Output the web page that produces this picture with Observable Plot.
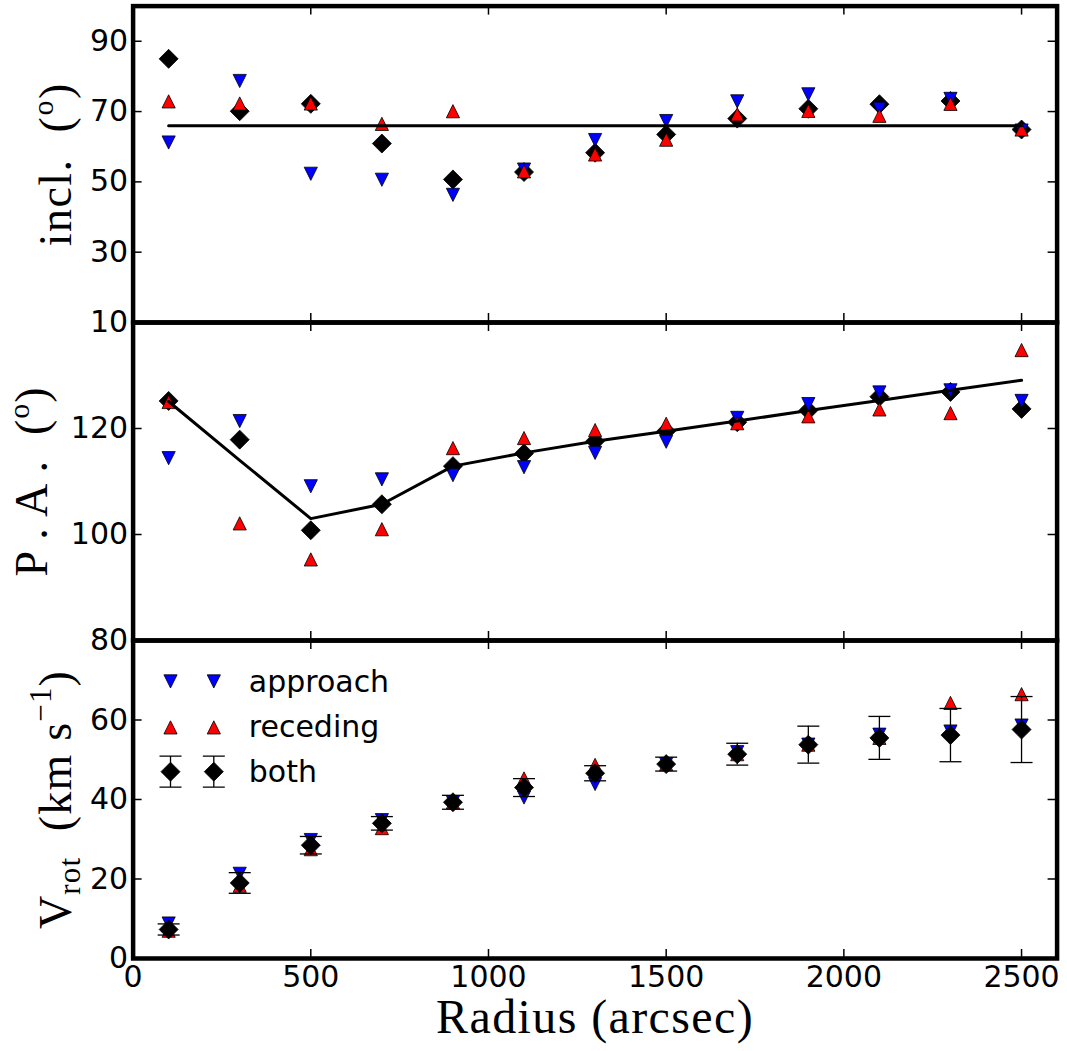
<!DOCTYPE html>
<html><head><meta charset="utf-8">
<script src="https://cdn.jsdelivr.net/npm/d3@7"></script>
<script src="https://cdn.jsdelivr.net/npm/@observablehq/plot@0.6"></script>
<style>
html,body{margin:0;padding:0;background:#fff;}
#wrap{position:relative;width:1067px;height:1051px;overflow:hidden;background:#fff;}
#wrap svg{position:absolute;left:0;}
</style></head><body><div id="wrap"></div>
<script>
// ---- data ----
const radius = [100, 300, 500, 700, 900, 1100, 1300, 1500, 1700, 1900, 2100, 2300, 2500];

const inclApproach = [61.2, 78.7, 52.3, 50.6, 46.3, 53.5, 61.9, 67.3, 72.9, 74.9, 70.8, 73.6, 64.6];
const inclReceding = [72.9, 72.3, 72.3, 66.5, 70.1, 53.0, 57.8, 62.0, 69.2, 70.2, 68.8, 72.2, 64.9];
const inclBoth     = [85.0, 70.1, 72.2, 60.9, 50.7, 52.8, 58.3, 63.5, 68.0, 70.8, 72.1, 73.0, 64.9];
const inclModel    = [66.0, 66.0, 66.0, 66.0, 66.0, 66.0, 66.0, 66.0, 66.0, 66.0, 66.0, 66.0, 66.0];

const paApproach = [114.4, 121.4, 109.1, 110.4, 111.2, 112.7, 115.4, 117.5, 122.0, 124.6, 126.8, 127.2, 125.2];
const paReceding = [125.0, 102.1, 95.3, 101.0, 116.3, 118.2, 119.7, 120.9, 121.0, 122.3, 123.6, 122.9, 134.8];
const paBoth     = [125.2, 117.9, 100.8, 105.7, 112.9, 115.3, 117.6, 119.5, 121.2, 123.4, 126.0, 126.9, 123.7];
const paModel    = [125.1, 114.0, 103.0, 105.7, 112.9, 115.4, 117.6, 119.5, 121.4, 123.4, 125.3, 127.2, 129.1];

const vApproach = [8.8, 21.3, 29.8, 34.8, 39.3, 40.5, 43.9, 48.9, 51.9, 53.8, 56.3, 57.1, 58.6];
const vReceding = [7.0, 18.3, 27.5, 32.8, 39.3, 45.3, 48.7, 48.9, 51.4, 53.8, 55.5, 64.3, 66.5];
const vBoth     = [7.3, 19.0, 28.5, 34.0, 39.3, 43.0, 46.6, 48.9, 51.4, 53.8, 55.5, 56.2, 57.6];
const vErr      = [1.4, 2.6, 2.2, 1.7, 1.75, 2.25, 1.9, 1.75, 2.75, 4.65, 5.4, 6.7, 8.3];

const xTicks = [0, 500, 1000, 1500, 2000, 2500];
const inclTicks = [10, 30, 50, 70, 90];
const paTicks = [80, 100, 120];
const vTicks = [0, 20, 40, 60];
const vTickMarks = [0, 20, 40, 60, 80];
const legendLabels = ["approach", "receding", "both"];

// ---- helpers ----
const W = 1067, ML = 132.6, MR = 10.4, PW = W - ML - MR;
const BLUE = "#0000ff", RED = "#ff0000";
const fmt = d => String(d);

const triUp = {draw(c, s) { const r = Math.sqrt(s / Math.PI); c.moveTo(0, -r); c.lineTo(r, r); c.lineTo(-r, r); c.closePath(); }};
const triDown = {draw(c, s) { const r = Math.sqrt(s / Math.PI); c.moveTo(0, r); c.lineTo(r, -r); c.lineTo(-r, -r); c.closePath(); }};
const diamond = {draw(c, s) { const r = Math.sqrt(s / Math.PI); c.moveTo(0, -r); c.lineTo(r, 0); c.lineTo(0, r); c.lineTo(-r, 0); c.closePath(); }};
const cap = {draw(c, s) { const r = Math.sqrt(s / Math.PI); c.moveTo(-r, 0); c.lineTo(r, 0); }};
const errIcon = {draw(c, s) { const r = Math.sqrt(s / Math.PI); const h = r * 1.41; c.moveTo(0, -h); c.lineTo(0, h); c.moveTo(-r, -h); c.lineTo(r, -h); c.moveTo(-r, h); c.lineTo(r, h); }};

function rows(...cols) {
  return radius.map((r, i) => ({r, a: cols[0][i], b: cols[1][i], c: cols[2][i], m: cols[3] ? cols[3][i] : null, e: cols[4] ? cols[4][i] : null}));
}

function frameMarks(yTickVals, PH) {
  const ts = {stroke: "black", strokeWidth: 1.5};
  return [
    Plot.tickY(yTickVals, {y: d => d, insetRight: PW - 9, ...ts}),
    Plot.tickY(yTickVals, {y: d => d, insetLeft: PW - 9, ...ts}),
    Plot.tickX(xTicks, {x: d => d, insetTop: PH - 9, ...ts}),
    Plot.tickX(xTicks, {x: d => d, insetBottom: PH - 9, ...ts}),
    Plot.frame({stroke: "black", strokeWidth: 4.5})
  ];
}

const SERIF = "Liberation Serif";
function yLabel(txt, dx = -62.6) {
  return Plot.text([txt], {frameAnchor: "left", dx, rotate: -90, textAnchor: "middle", lineAnchor: "bottom",
    fontFamily: SERIF, fontSize: 46, fill: "black"});
}

function richify(svg, key, parts, spacing) {
  d3.select(svg).selectAll("text").filter(function () { return this.textContent === key; }).each(function () {
    const el = d3.select(this);
    el.text(null);
    if (spacing) el.attr("letter-spacing", spacing);
    let cur = 0;
    for (const p of parts) {
      const ts = el.append("tspan").text(p.t);
      const target = p.shift || 0;
      if (target !== cur) ts.attr("dy", target - cur);
      cur = target;
      if (p.size) ts.attr("font-size", p.size);
    }
  });
}

const baseStyle = {background: "transparent", overflow: "visible", fontFamily: "DejaVu Sans", fontSize: "30px", color: "black"};
const wrap = document.getElementById("wrap");

function place(svg, top) { svg.style.top = top + "px"; wrap.appendChild(svg); }

// ---- panel 1: inclination ----
{
  const data = rows(inclApproach, inclReceding, inclBoth, inclModel);
  const MT = 5.6, PH = 316.4, MB = 10, H = MT + PH + MB;
  const svg = Plot.plot({
    width: W, height: H, marginLeft: ML, marginRight: MR, marginTop: MT, marginBottom: MB,
    x: {domain: [0, 2600], axis: null},
    y: {domain: [10, 100]},
    style: baseStyle,
    marks: [
      Plot.axisY(inclTicks, {tickSize: 0, tickPadding: 5, label: null, fill: "black", tickFormat: fmt}),
      Plot.dot(data, {x: "r", y: "c", symbol: diamond, r: 9.5, fill: "black", stroke: "black", strokeWidth: 0.8}),
      Plot.dot(data, {x: "r", y: "a", symbol: triDown, r: 6.6, fill: BLUE, stroke: "black", strokeWidth: 0.8}),
      Plot.dot(data, {x: "r", y: "b", symbol: triUp, r: 6.6, fill: RED, stroke: "black", strokeWidth: 0.8}),
      Plot.line(data, {x: "r", y: "m", stroke: "black", strokeWidth: 3}),
      ...frameMarks(inclTicks, PH),
      yLabel("incl. (o)")
    ]
  });
  richify(svg, "incl. (o)", [{t: "incl.  ("}, {t: "o", shift: -18, size: 30}, {t: ")", shift: 0}], 1.5);
  place(svg, 0);
}

// ---- panel 2: position angle ----
{
  const data = rows(paApproach, paReceding, paBoth, paModel);
  const MT = 10, PH = 318, MB = 10, H = MT + PH + MB;
  const svg = Plot.plot({
    width: W, height: H, marginLeft: ML, marginRight: MR, marginTop: MT, marginBottom: MB,
    x: {domain: [0, 2600], axis: null},
    y: {domain: [80, 140]},
    style: baseStyle,
    marks: [
      Plot.axisY(paTicks, {tickSize: 0, tickPadding: 5, label: null, fill: "black", tickFormat: fmt}),
      Plot.dot(data, {x: "r", y: "c", symbol: diamond, r: 9.5, fill: "black", stroke: "black", strokeWidth: 0.8}),
      Plot.dot(data, {x: "r", y: "a", symbol: triDown, r: 6.6, fill: BLUE, stroke: "black", strokeWidth: 0.8}),
      Plot.dot(data, {x: "r", y: "b", symbol: triUp, r: 6.6, fill: RED, stroke: "black", strokeWidth: 0.8}),
      Plot.line(data, {x: "r", y: "m", stroke: "black", strokeWidth: 3}),
      ...frameMarks(paTicks, PH),
      yLabel("P. A. (o)", -85.9)
    ]
  });
  richify(svg, "P. A. (o)", [{t: "P\u2009.\u2009A\u2009.  ("}, {t: "o", shift: -18, size: 30}, {t: ")", shift: 0}], 1);
  place(svg, 312.3);
}

// ---- panel 3: rotation velocity ----
{
  const data = rows(vApproach, vReceding, vBoth, null, vErr);
  const MT = 10, PH = 318, top = 629.8, H = 1051 - top, MB = H - MT - PH;
  const mk = {fill: "black", stroke: "black", strokeWidth: 0.8};
  const legendTop = [40.9, 86.9, 131.2];
  const legendBase = [51.9, 96.9, 141.9];
  const legendX = [37.4, 80.7];
  const legendMarks = [];
  for (const dx of legendX) {
    legendMarks.push(Plot.dot([0], {frameAnchor: "top-left", dx, dy: legendTop[0], symbol: triDown, r: 6.6, fill: BLUE, stroke: "black", strokeWidth: 0.8}));
    legendMarks.push(Plot.dot([0], {frameAnchor: "top-left", dx, dy: legendTop[1], symbol: triUp, r: 6.6, fill: RED, stroke: "black", strokeWidth: 0.8}));
    legendMarks.push(Plot.dot([0], {frameAnchor: "top-left", dx, dy: legendTop[2], symbol: errIcon, r: 11, fill: "none", stroke: "black", strokeWidth: 1.3}));
    legendMarks.push(Plot.dot([0], {frameAnchor: "top-left", dx, dy: legendTop[2], symbol: diamond, r: 9.5, ...mk}));
  }
  legendLabels.forEach((t, i) => legendMarks.push(
    Plot.text([t], {frameAnchor: "top-left", dx: 115.7, dy: legendBase[i], textAnchor: "start", lineAnchor: "bottom", fontSize: 30, fill: "black"})
  ));
  const svg = Plot.plot({
    width: W, height: H, marginLeft: ML, marginRight: MR, marginTop: MT, marginBottom: MB,
    x: {domain: [0, 2600]},
    y: {domain: [0, 80]},
    style: baseStyle,
    marks: [
      Plot.axisY(vTicks, {tickSize: 0, tickPadding: 5, label: null, fill: "black", tickFormat: fmt}),
      Plot.axisX(xTicks, {tickSize: 0, tickPadding: 7, label: null, fill: "black", tickFormat: fmt}),
      Plot.dot(data, {x: "r", y: "a", symbol: triDown, r: 6.6, fill: BLUE, stroke: "black", strokeWidth: 0.8}),
      Plot.dot(data, {x: "r", y: "b", symbol: triUp, r: 6.6, fill: RED, stroke: "black", strokeWidth: 0.8}),
      Plot.ruleX(data, {x: "r", y1: d => d.c - d.e, y2: d => d.c + d.e, stroke: "black", strokeWidth: 1.3}),
      Plot.dot(data, {x: "r", y: d => d.c + d.e, symbol: cap, r: 11, fill: "none", stroke: "black", strokeWidth: 1.3}),
      Plot.dot(data, {x: "r", y: d => d.c - d.e, symbol: cap, r: 11, fill: "none", stroke: "black", strokeWidth: 1.3}),
      Plot.dot(data, {x: "r", y: "c", symbol: diamond, r: 9.5, ...mk}),
      ...legendMarks,
      ...frameMarks(vTickMarks, PH),
      yLabel("Vrot (km s-1)"),
      Plot.text(["Radius (arcsec)"], {frameAnchor: "bottom", dy: 74.5, lineAnchor: "bottom", fontFamily: SERIF, fontSize: 48, fill: "black"})
    ]
  });
  richify(svg, "Vrot (km s-1)", [{t: "V"}, {t: "rot", shift: 9, size: 31}, {t: "  (km s", shift: 0}, {t: "\u22121", shift: -20, size: 31}, {t: ")", shift: 0}], 1.2);
  richify(svg, "Radius (arcsec)", [{t: "Radius (arcsec)"}], 1.4);
  place(svg, top);
}
</script></body></html>
